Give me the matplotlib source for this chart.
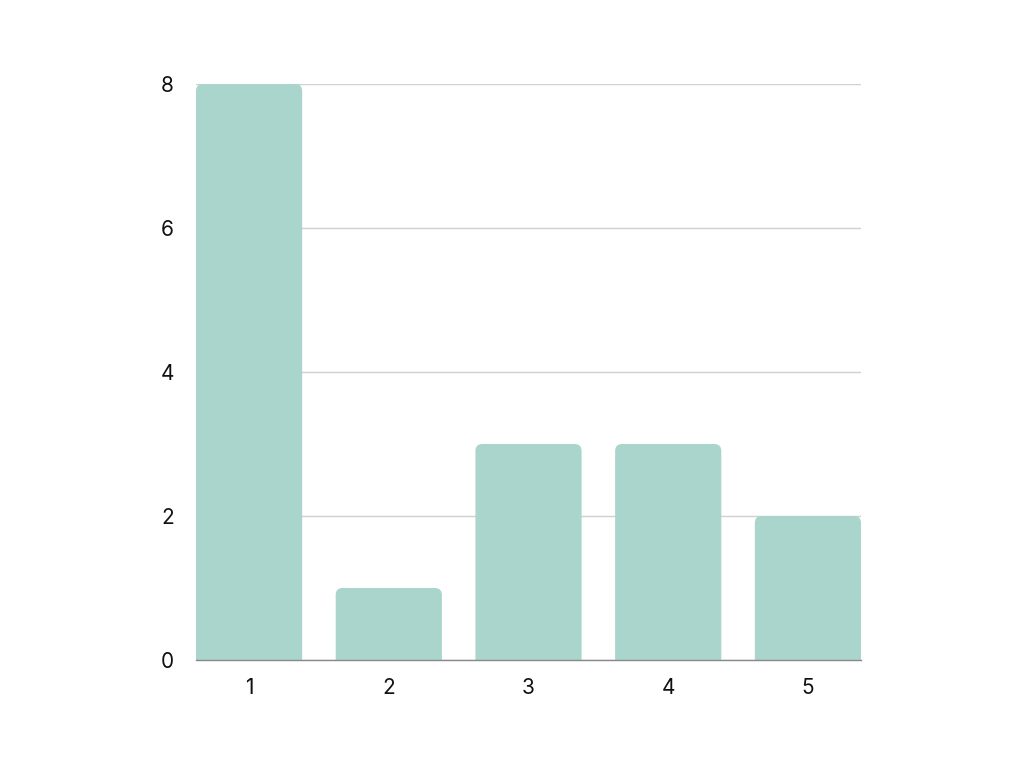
import matplotlib
matplotlib.use("Agg")
import matplotlib.pyplot as plt
from matplotlib.patches import FancyBboxPatch

categories = [1, 2, 3, 4, 5]
values = [8, 1, 3, 3, 2]
yticks = [0, 2, 4, 6, 8]

plt.rcParams['font.family'] = ['Inter', 'DejaVu Sans']

fig = plt.figure(figsize=(10.24, 7.68), dpi=100)
ax = fig.add_axes([196/1024, 1-660/768, (861-196)/1024, (660-84)/768])

bar_w = 0.76
color = '#a9d5cc'
ax.set_xlim(1 - bar_w/2, 5 + bar_w/2)
ax.set_ylim(0, 8)

# pixel scales
px_per_x = (861-196) / (5 + bar_w/2 - (1 - bar_w/2))
px_per_y = (660-84) / 8
r_px = 7
for c, v in zip(categories, values):
    p = FancyBboxPatch((c - bar_w/2, -1), bar_w, v + 1,
                       boxstyle=f"round,pad=0,rounding_size={r_px/px_per_x}",
                       mutation_aspect=px_per_x/px_per_y,
                       facecolor=color, edgecolor='none', zorder=2)
    ax.add_patch(p)

ax.set_yticks(yticks)
ax.set_xticks(categories)
ax.grid(axis='y', color='#d0d0d0', linewidth=1, zorder=0)
ax.set_axisbelow(True)
for s in ['top', 'right', 'left']:
    ax.spines[s].set_visible(False)
ax.spines['bottom'].set_color('#888888')
ax.spines['bottom'].set_linewidth(1)
ax.spines['bottom'].set_zorder(3)
ax.tick_params(axis='both', length=0, labelsize=15, colors='#111111')
ax.tick_params(axis='y', pad=16)
ax.tick_params(axis='x', pad=13)

fig.savefig('out.png', dpi=100)
